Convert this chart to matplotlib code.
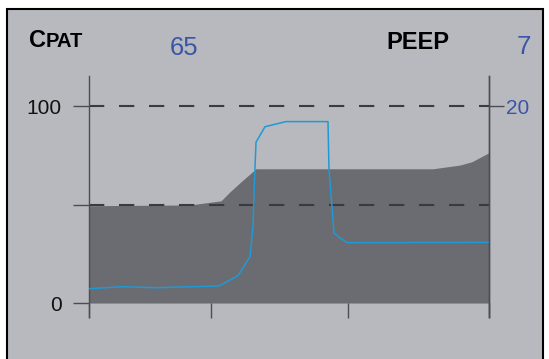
import matplotlib
matplotlib.use("Agg")
import matplotlib.pyplot as plt
from matplotlib.patches import Rectangle

plt.rcParams['font.family'] = ['Liberation Sans', 'DejaVu Sans']
plt.rcParams['lines.scale_dashes'] = False

# Time axis (arbitrary units) and ticks
x_ticks = [0, 122, 259, 400]

# Shaded envelope (left scale, 0-100)
area_x = [0, 101, 132, 141, 154, 167, 344, 371, 383, 400]
area_y = [49.5, 49.9, 52.0, 56.6, 62.6, 68.3, 68.3, 70.2, 71.9, 76.5]

# Blue trace (left scale, 0-100)
trace_x = [0, 33, 68, 130, 149, 161, 164, 165, 167, 176, 197, 239, 240, 243, 245, 258, 400]
trace_y = [7.3, 8.3, 7.8, 8.7, 13.9, 23.6, 38.8, 55.8, 81.8, 89.7, 92.3, 92.3,
           67.7, 49.0, 35.5, 30.7, 30.9]

left_ticks = [0, 50, 100]
left_labels = ["0", "", "100"]
right_ticks = [20]
right_labels = ["20"]
ref_levels = [50, 100]

cpat_value = "65"
peep_value = "7"

W, H = 549, 359
BG = "#b8b9be"
DARK = "#6a6c72"
BLUE_TXT = "#3b55a6"
LINE_BLUE = "#1e9ad6"
AXC = "#4c4d52"

fig = plt.figure(figsize=(W / 100, H / 100), dpi=100)
fig.patch.set_facecolor("white")

# Framed panel behind the plot
fig.patches.append(Rectangle((7 / W, -0.05), (543 - 7) / W, 1.05 - 9 / H,
                             transform=fig.transFigure, facecolor=BG,
                             edgecolor="black", linewidth=1.5, zorder=-5))

ax = fig.add_axes([89 / W, 1 - 317 / H, 400 / W, (317 - 76) / H])
ax.set_zorder(2)
ax.set_facecolor("none")
ylo, yhi = -7.1, 115.5
ax.set_xlim(0, 400)
ax.set_ylim(ylo, yhi)

ax.fill_between(area_x, 0, area_y, color=DARK, linewidth=0, zorder=1)
for lev in ref_levels:
    ax.axhline(lev, color="#3a3b40", linewidth=1.5, dashes=(11, 10.6), zorder=2)
ax.plot(trace_x, trace_y, color=LINE_BLUE, linewidth=1.1, zorder=3)

for s in ["top", "bottom"]:
    ax.spines[s].set_visible(False)
for s in ["left", "right"]:
    ax.spines[s].set_color(AXC)
    ax.spines[s].set_linewidth(1.0)
ax.spines["bottom"].set_position(("data", 0))

ax.set_xticks(x_ticks)
ax.set_xticklabels([])
ax.tick_params(axis="x", direction="out", length=10.5, width=1.0, color=AXC)
ax.set_yticks(left_ticks)
ax.set_yticklabels(left_labels)
ax.tick_params(axis="y", direction="out", length=11.5, width=1.0, color=AXC,
               labelsize=15, pad=8, labelcolor="#111111")

ax2 = ax.twinx()
ax2.set_zorder(3)
ax2.set_facecolor("none")
ax2.set_ylim(ylo * 0.2, yhi * 0.2)
for s in ["top", "bottom", "left"]:
    ax2.spines[s].set_visible(False)
ax2.spines["right"].set_color(AXC)
ax2.spines["right"].set_linewidth(1.0)
ax2.set_yticks(right_ticks)
ax2.set_yticklabels(right_labels)
ax2.tick_params(axis="y", direction="out", length=10.5, width=1.0, color=AXC,
                labelsize=15, pad=1.5, labelcolor=BLUE_TXT)


def px(x, y):
    return x / W, 1 - y / H


fig.text(*px(29, 46.7), "C", fontsize=17, fontweight="bold", color="black", va="baseline")
fig.text(*px(46, 46.7), "PAT", fontsize=14.5, fontweight="bold", color="black", va="baseline")
fig.text(*px(170, 55), cpat_value, fontsize=18.5, color=BLUE_TXT, va="baseline")
fig.text(*px(386, 49.3), "PEEP", fontsize=17, fontweight="bold", color="black", va="baseline")
fig.text(*px(517, 53.5), peep_value, fontsize=18.5, color=BLUE_TXT, va="baseline")

fig.savefig("out.png", dpi=100, facecolor=fig.get_facecolor())
